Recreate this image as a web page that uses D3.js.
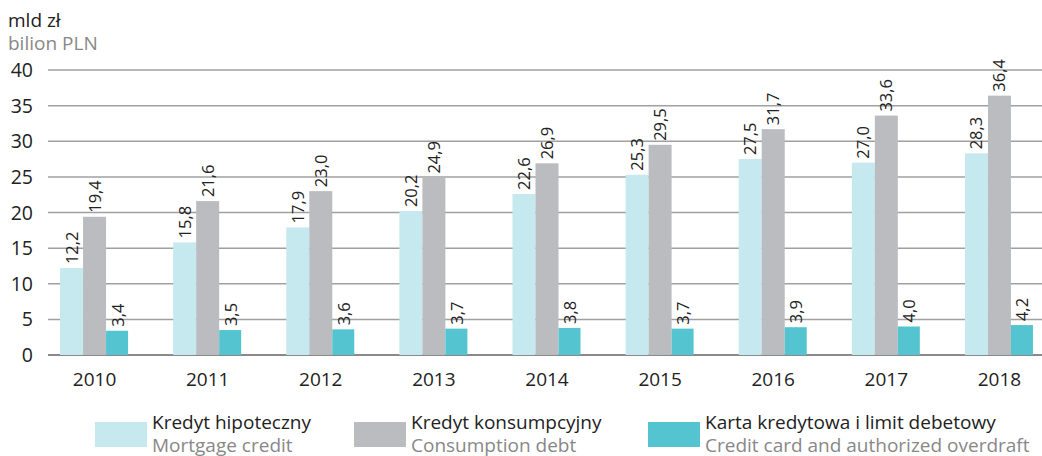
<!DOCTYPE html>
<html>
<head>
<meta charset="utf-8">
<script src="https://cdn.jsdelivr.net/npm/d3@7"></script>
<style>
  body { margin: 0; background: #fff; }
  svg { font-family: "Open Sans", sans-serif; }
</style>
</head>
<body>
<svg id="chart" width="1042" height="456"></svg>
<script>
const years = ["2010", "2011", "2012", "2013", "2014", "2015", "2016", "2017", "2018"];
const mortgage = [12.2, 15.8, 17.9, 20.2, 22.6, 25.3, 27.5, 27.0, 28.3];
const consumption = [19.4, 21.6, 23.0, 24.9, 26.9, 29.5, 31.7, 33.6, 36.4];
const cards = [3.4, 3.5, 3.6, 3.7, 3.8, 3.7, 3.9, 4.0, 4.2];
const seriesNames = ["Kredyt hipoteczny", "Kredyt konsumpcyjny", "Karta kredytowa i limit debetowy"];
const seriesNamesEn = ["Mortgage credit", "Consumption debt", "Credit card and authorized overdraft"];
const yTicks = [0, 5, 10, 15, 20, 25, 30, 35, 40];

const colors = ["#c6e8ef", "#bbbcc0", "#53c4d0"];
const seriesData = [mortgage, consumption, cards];

const svg = d3.select("#chart");

const x = d3.scaleBand().domain(years).range([38, 1056]).paddingInner(0).paddingOuter(0);
const y = d3.scaleLinear().domain([0, 40]).range([355, 70]);
const barW = 23;

// gridlines
svg.append("g")
    .selectAll("line")
    .data(yTicks)
    .join("line")
    .attr("x1", 48)
    .attr("x2", 1042)
    .attr("y1", d => y(d))
    .attr("y2", d => y(d))
    .style("stroke", d => d === 0 ? "#8a8a8a" : "#a0a0a0")
    .style("stroke-width", d => d === 0 ? 2 : 1.5);

// y tick labels
svg.append("g")
    .selectAll("text")
    .data(yTicks)
    .join("text")
    .attr("x", 33)
    .attr("y", d => y(d))
    .attr("dy", "0.36em")
    .attr("text-anchor", "end")
    .style("font-size", "19.5px")
    .style("fill", "#222")
    .text(d => d);

// units
svg.append("text").attr("x", 8).attr("y", 27)
    .style("font-size", "19px").style("fill", "#222").text("mld zł");
svg.append("text").attr("x", 8).attr("y", 50)
    .style("font-size", "19px").style("fill", "#888").text("bilion PLN");

// bars
seriesData.forEach((values, s) => {
    const g = svg.append("g");
    const bx = (d, i) => x(years[i]) + x.bandwidth() / 2 - 1.5 * barW + s * barW;
    g.selectAll("rect")
        .data(values)
        .join("rect")
        .attr("x", bx)
        .attr("y", d => y(d))
        .attr("width", s === 2 ? barW - 1 : barW)
        .attr("height", d => y(0) - y(d))
        .style("fill", colors[s]);

    g.selectAll("text")
        .data(values)
        .join("text")
        .attr("transform", (d, i) => `translate(${bx(d, i) + barW / 2 + 6},${y(d) - 4}) rotate(-90)`)
        .style("font-size", "16.5px")
        .style("fill", "#222")
        .text(d => d.toFixed(1).replace(".", ","));
});

// year labels
svg.append("g")
    .selectAll("text")
    .data(years)
    .join("text")
    .attr("x", d => x(d) + x.bandwidth() / 2)
    .attr("y", 386)
    .attr("text-anchor", "middle")
    .style("font-size", "19px")
    .style("fill", "#222")
    .text(d => d);

// legend
const legendX = [95, 354, 648];
const legend = svg.append("g")
    .selectAll("g")
    .data(seriesNames)
    .join("g")
    .attr("transform", (d, i) => `translate(${legendX[i]},0)`);

legend.append("rect")
    .attr("x", 0).attr("y", 422)
    .attr("width", 52).attr("height", 25)
    .style("fill", (d, i) => colors[i]);

legend.append("text")
    .attr("x", 57).attr("y", 429)
    .style("font-size", "19px").style("fill", "#222")
    .text(d => d);

legend.append("text")
    .attr("x", 57).attr("y", 452)
    .style("font-size", "19px").style("fill", "#888")
    .text((d, i) => seriesNamesEn[i]);
</script>
</body>
</html>
